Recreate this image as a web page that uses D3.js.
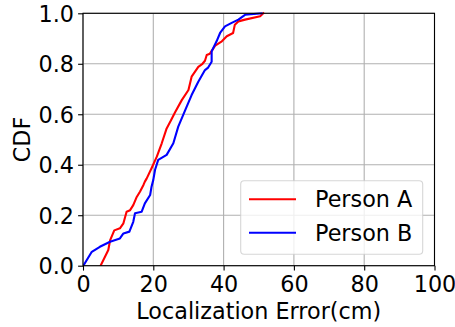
<!DOCTYPE html>
<html>
<head>
<meta charset="utf-8">
<script src="https://cdn.jsdelivr.net/npm/d3@7"></script>
<style>
  html, body { margin: 0; padding: 0; background: #fff; }
  svg { display: block; }
  text { font-family: "DejaVu Sans", sans-serif; fill: #000; }
</style>
</head>
<body>
<svg id="chart" width="455" height="327"></svg>
<script>
// ---- data ----
const seriesNames = ["Person A", "Person B"];
const seriesColors = ["#ff0000", "#0000ff"];

const personAErr = [5.0, 7.2, 7.7, 8.9, 10.5, 11.5, 12.4, 13.4, 14.3, 15.2, 16.2, 17.2, 17.6, 18.1, 19.5, 21.0, 22.4, 23.8, 25.0, 26.2, 28.1, 30.0, 30.9, 32.8, 34.0, 34.7, 35.2, 36.1, 37.6, 39.5, 40.9, 42.7, 43.2, 44.2, 46.1, 50.4, 51.3];
const personACdf = [0.0, 0.062, 0.10, 0.14, 0.148, 0.168, 0.214, 0.22, 0.24, 0.27, 0.293, 0.32, 0.333, 0.345, 0.386, 0.432, 0.485, 0.544, 0.575, 0.608, 0.656, 0.696, 0.749, 0.788, 0.80, 0.812, 0.835, 0.84, 0.872, 0.889, 0.909, 0.922, 0.955, 0.968, 0.975, 0.988, 1.0];

const personBErr = [0.1, 2.5, 4.8, 7.7, 10.5, 11.5, 13.2, 14.3, 14.8, 16.7, 17.6, 19.1, 19.5, 20.0, 20.5, 21.4, 23.8, 25.7, 27.1, 29.5, 30.9, 32.8, 34.7, 35.6, 36.6, 36.6, 38.0, 39.0, 40.4, 42.3, 44.2, 46.1, 50.8];
const personBCdf = [0.0, 0.055, 0.075, 0.095, 0.108, 0.128, 0.135, 0.174, 0.208, 0.214, 0.247, 0.28, 0.313, 0.34, 0.38, 0.419, 0.439, 0.485, 0.551, 0.63, 0.676, 0.729, 0.775, 0.785, 0.808, 0.849, 0.889, 0.922, 0.948, 0.962, 0.975, 0.994, 1.0];

const xTicks = [0, 20, 40, 60, 80, 100];
const yTicks = [0.0, 0.2, 0.4, 0.6, 0.8, 1.0];
const xLabel = "Localization Error(cm)";
const yLabel = "CDF";

// ---- layout ----
const mLeft = 83, mRight = 434.5, mTop = 13.3, mBottom = 265.7;
const fs = 22.3;

const svg = d3.select("#chart");
const x = d3.scaleLinear().domain([0, 100]).range([mLeft, mRight]);
const y = d3.scaleLinear().domain([0, 1]).range([mBottom, mTop]);

// grid
const grid = svg.append("g");
grid.selectAll("line.gx").data(xTicks).join("line")
  .attr("x1", d => x(d)).attr("x2", d => x(d))
  .attr("y1", mTop).attr("y2", mBottom)
  .attr("stroke", "#b0b0b0").attr("stroke-width", 1.1);
grid.selectAll("line.gy").data(yTicks).join("line")
  .attr("x1", mLeft).attr("x2", mRight)
  .attr("y1", d => y(d)).attr("y2", d => y(d))
  .attr("stroke", "#b0b0b0").attr("stroke-width", 1.1);

// lines
const series = [
  personAErr.map((v, i) => [v, personACdf[i]]),
  personBErr.map((v, i) => [v, personBCdf[i]])
];
const line = d3.line().x(d => x(d[0])).y(d => y(d[1]));
svg.append("defs").append("clipPath").attr("id", "clip")
  .append("rect").attr("x", mLeft).attr("y", mTop - 2).attr("width", mRight - mLeft).attr("height", mBottom - mTop + 2);
svg.append("g").attr("clip-path", "url(#clip)")
  .selectAll("path").data(series).join("path")
  .attr("d", line)
  .attr("fill", "none")
  .attr("stroke", (d, i) => seriesColors[i])
  .attr("stroke-width", 2.1)
  .attr("stroke-linejoin", "round")
  .attr("stroke-linecap", "square");

// axes
const xAxis = d3.axisBottom(x).tickValues(xTicks).tickFormat(d3.format("d")).tickSize(4.9).tickPadding(4.9);
const yAxis = d3.axisLeft(y).tickValues(yTicks).tickFormat(d3.format(".1f")).tickSize(4.9).tickPadding(4.9);

const gx = svg.append("g").attr("transform", `translate(0,${mBottom})`).call(xAxis);
const gy = svg.append("g").attr("transform", `translate(${mLeft},0)`).call(yAxis);
[gx, gy].forEach(g => {
  g.select(".domain").remove();
  g.selectAll(".tick line").attr("stroke", "#000").attr("stroke-width", 1.1);
  g.selectAll(".tick text").attr("font-size", fs).attr("font-family", "DejaVu Sans");
});
gx.selectAll(".tick text").attr("dy", null).attr("y", 26.6);
gy.selectAll(".tick text").attr("dy", null).attr("y", 8.2).attr("x", -9);

// spines
svg.append("rect").attr("x", mLeft).attr("y", mTop)
  .attr("width", mRight - mLeft).attr("height", mBottom - mTop)
  .attr("fill", "none").attr("stroke", "#000").attr("stroke-width", 1.1);

// axis labels
svg.append("text").attr("x", (mLeft + mRight) / 2).attr("y", 318.5)
  .attr("text-anchor", "middle").attr("font-size", fs).text(xLabel);
svg.append("text").attr("transform", `translate(30,${(mTop + mBottom) / 2}) rotate(-90)`)
  .attr("text-anchor", "middle").attr("font-size", fs).text(yLabel);

// legend
const lg = svg.append("g");
lg.append("rect").attr("x", 240.7).attr("y", 180.7).attr("width", 182).attr("height", 73.6)
  .attr("rx", 3.5).attr("fill", "#fff").attr("fill-opacity", 0.8)
  .attr("stroke", "#cccccc").attr("stroke-opacity", 0.8).attr("stroke-width", 1.1);
const ly = [199.3, 232.7];
seriesNames.forEach((name, i) => {
  lg.append("line").attr("x1", 249).attr("x2", 296).attr("y1", ly[i]).attr("y2", ly[i])
    .attr("stroke", seriesColors[i]).attr("stroke-width", 2.1);
  lg.append("text").attr("x", 315).attr("y", ly[i] + 7.8).attr("font-size", fs).text(name);
});
</script>
</body>
</html>
